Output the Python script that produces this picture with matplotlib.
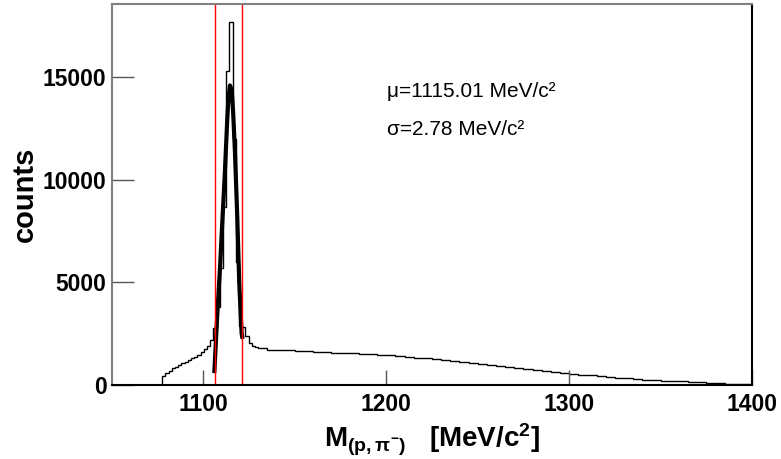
import numpy as np
import matplotlib
matplotlib.use("Agg")
import matplotlib.pyplot as plt

plt.rcParams["font.family"] = ["Liberation Sans", "DejaVu Sans"]
plt.rcParams["mathtext.fontset"] = "custom"
plt.rcParams["mathtext.rm"] = "Liberation Sans:bold"
plt.rcParams["mathtext.it"] = "Liberation Sans:bold"
plt.rcParams["mathtext.bf"] = "Liberation Sans:bold"

# invariant mass histogram, fine binning around the peak, coarser in the tail
fine_edges = np.arange(1077.5, 1130.01, 1.75)
tail_edges = np.arange(1135.0, 1400.01, 5.0)
edges = np.concatenate([fine_edges, tail_edges])

fine_counts = [440, 570, 700, 810, 890, 1000, 1080, 1120, 1220, 1300,
               1380, 1460, 1590, 1740, 1900, 2200, 2780, 3800, 5700, 8690,
               15290, 17700, 12000, 6000, 2900, 2840, 2390, 2030, 1920, 1860]
tail_counts = [1790, 1730, 1705, 1685, 1665, 1640, 1620, 1600, 1585, 1560,
               1540, 1515, 1495, 1470, 1445, 1415, 1380, 1340, 1300, 1260,
               1215, 1170, 1125, 1075, 1025, 975, 925, 875, 825, 775,
               730, 680, 635, 590, 550, 510, 470, 430, 390, 355,
               325, 295, 265, 240, 215, 195, 175, 150, 130, 110,
               90, 70, 55, 40]
counts = fine_counts + tail_counts

# fitted peak curve
fit_x = [1106.0, 1107.6, 1109.0, 1110.0, 1111.7, 1113.0, 1113.6, 1114.5,
         1115.5, 1116.3, 1117.2, 1118.5, 1119.6, 1120.9, 1121.2]
fit_y = [680, 3490, 5600, 7390, 10310, 12900, 13880, 14610,
         14370, 13200, 11450, 8200, 4950, 2500, 2350]

# selection window
cut_lo = 1106.2
cut_hi = 1121.2

mu_text = "μ=1115.01 MeV/c²"
sigma_text = "σ=2.78 MeV/c²"

fig = plt.figure(figsize=(7.81, 4.59), dpi=100)
ax = fig.add_axes([0.1434, 0.1612, 0.8195, 0.8301])

ax.stairs(counts, edges, baseline=0, color="black", linewidth=1.0)
ax.plot(fit_x, fit_y, color="black", linewidth=3.0)
ax.axvline(cut_lo, color="red", linewidth=1.0)
ax.axvline(cut_hi, color="red", linewidth=1.0)

ax.text(1200.5, 14025, mu_text, fontsize=15, va="baseline", ha="left")
ax.text(1200.5, 12187, sigma_text, fontsize=15, va="baseline", ha="left")

ax.set_xlim(1050, 1400)
ax.set_ylim(0, 18580)
ax.set_xticks([1100, 1200, 1300, 1400])
ax.set_yticks([0, 5000, 10000, 15000])
ax.tick_params(axis="x", direction="in", length=11, width=1, pad=6,
               labelsize=16.5, color="#555555")
ax.tick_params(axis="y", direction="in", length=16, width=1, pad=4,
               labelsize=16.5, color="#555555")
for lab in ax.get_xticklabels() + ax.get_yticklabels():
    lab.set_fontweight("bold")

ax.spines["top"].set_color("#7f7f7f")
ax.spines["left"].set_color("#7f7f7f")
ax.spines["right"].set_color("black")
ax.spines["bottom"].set_color("black")
for s in ax.spines.values():
    s.set_linewidth(1.5)

ax.set_ylabel("counts", fontsize=21, fontweight="bold", labelpad=3)
ax.set_xlabel(r"M$_{(p,\pi^{-})}$   [MeV/c$^{2}$]", fontsize=20,
              fontweight="bold", labelpad=4)

fig.savefig("out.png", dpi=100)
